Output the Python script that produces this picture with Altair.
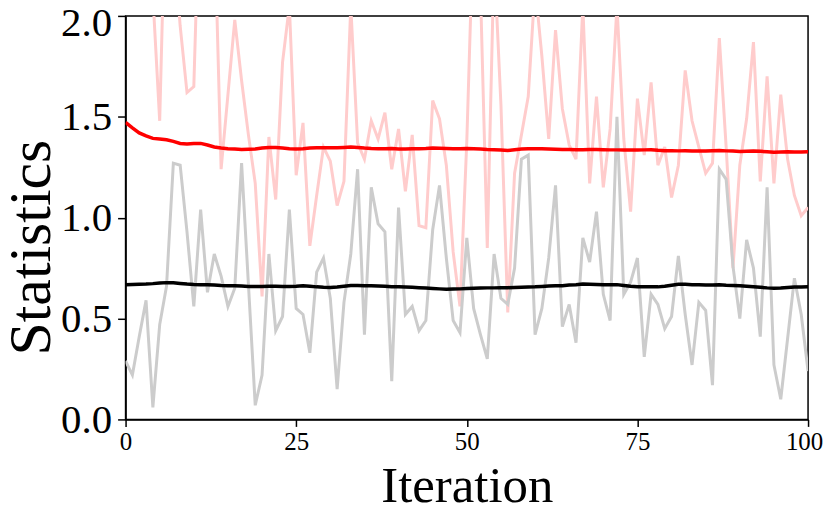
import altair as alt
import pandas as pd

iterations = list(range(101))

pink_raw = [2.6, 2.9, 3.2, 2.5, 2.1, 1.48, 2.8, 2.4, 1.95, 1.62,
            1.65, 2.8, 3.0, 2.5, 1.24, 1.61, 1.98, 1.68, 1.41, 1.17,
            0.61, 1.40, 1.09, 1.77, 2.05, 1.21, 1.47, 0.86, 1.11, 1.35,
            1.28, 1.06, 1.18, 2.05, 1.37, 1.29, 1.48, 1.39, 1.52, 1.24,
            1.44, 1.13, 1.41, 0.96, 0.95, 1.58, 1.49, 1.26, 0.83, 0.56,
            1.38, 2.5, 2.13, 0.85, 2.29, 1.56, 0.53, 1.22, 1.41, 1.60,
            2.15, 1.80, 1.39, 1.93, 1.54, 1.36, 1.29, 2.05, 1.17, 1.60,
            1.15, 1.44, 2.05, 1.39, 1.03, 1.59, 1.31, 1.67, 1.26, 1.35,
            1.10, 1.26, 1.73, 1.48, 1.35, 1.22, 1.27, 1.89, 1.35, 0.75,
            1.26, 1.49, 1.87, 1.18, 1.70, 1.17, 1.61, 1.29, 1.11, 1.01,
            1.05]

gray_raw = [0.29, 0.22, 0.41, 0.59, 0.06, 0.47, 0.66, 1.27, 1.26, 0.93,
            0.56, 1.04, 0.63, 0.82, 0.71, 0.56, 0.65, 1.27, 0.67, 0.07,
            0.22, 0.82, 0.44, 0.51, 1.04, 0.55, 0.52, 0.33, 0.73, 0.80,
            0.60, 0.15, 0.58, 0.82, 1.24, 0.42, 1.15, 0.97, 0.93, 0.19,
            1.05, 0.52, 0.56, 0.44, 0.49, 0.94, 1.16, 0.80, 0.49, 0.43,
            0.90, 0.55, 0.42, 0.30, 0.82, 0.60, 0.57, 0.75, 1.29, 1.31,
            0.42, 0.55, 0.80, 1.16, 0.46, 0.57, 0.38, 0.90, 0.78, 1.03,
            0.62, 0.49, 1.50, 0.62, 0.68, 0.80, 0.31, 0.62, 0.57, 0.45,
            0.51, 0.81, 0.52, 0.27, 0.58, 0.54, 0.17, 1.24, 1.19, 0.76,
            0.50, 0.89, 0.75, 0.41, 1.15, 0.27, 0.10, 0.40, 0.70, 0.52,
            0.24]

red_smooth = [1.472, 1.445, 1.420, 1.405, 1.393, 1.390, 1.386, 1.378, 1.368, 1.365,
              1.368, 1.368, 1.360, 1.350, 1.345, 1.342, 1.340, 1.338, 1.339, 1.340,
              1.345, 1.348, 1.348, 1.345, 1.342, 1.340, 1.342, 1.345, 1.346, 1.347,
              1.346, 1.346, 1.348, 1.350, 1.348, 1.345, 1.343, 1.342, 1.342, 1.343,
              1.340, 1.340, 1.341, 1.342, 1.343, 1.345, 1.344, 1.343, 1.342, 1.342,
              1.343, 1.342, 1.340, 1.338, 1.337, 1.335, 1.333, 1.337, 1.340, 1.341,
              1.342, 1.341, 1.340, 1.339, 1.338, 1.338, 1.337, 1.337, 1.338, 1.338,
              1.337, 1.336, 1.336, 1.335, 1.335, 1.335, 1.336, 1.337, 1.334, 1.332,
              1.332, 1.331, 1.332, 1.330, 1.331, 1.330, 1.332, 1.333, 1.331, 1.330,
              1.328, 1.329, 1.330, 1.329, 1.327, 1.324, 1.326, 1.327, 1.326, 1.325,
              1.327]

black_smooth = [0.668, 0.669, 0.670, 0.671, 0.673, 0.676, 0.678, 0.677, 0.674, 0.671,
                0.669, 0.668, 0.667, 0.666, 0.664, 0.663, 0.662, 0.661, 0.659, 0.659,
                0.659, 0.660, 0.660, 0.659, 0.659, 0.660, 0.662, 0.660, 0.657, 0.655,
                0.654, 0.656, 0.660, 0.664, 0.664, 0.663, 0.662, 0.661, 0.660, 0.658,
                0.657, 0.656, 0.655, 0.653, 0.651, 0.649, 0.647, 0.645, 0.646, 0.647,
                0.649, 0.650, 0.651, 0.652, 0.652, 0.653, 0.653, 0.654, 0.655, 0.656,
                0.657, 0.659, 0.661, 0.662, 0.663, 0.666, 0.668, 0.671, 0.670, 0.669,
                0.668, 0.668, 0.668, 0.664, 0.660, 0.658, 0.657, 0.657, 0.657, 0.660,
                0.665, 0.670, 0.670, 0.668, 0.667, 0.666, 0.666, 0.667, 0.665, 0.664,
                0.662, 0.660, 0.658, 0.655, 0.652, 0.650, 0.651, 0.654, 0.656, 0.656,
                0.657]

x_ticks = [0, 25, 50, 75, 100]
y_ticks = [0.0, 0.5, 1.0, 1.5, 2.0]

FONT = "Liberation Serif"

x_enc = alt.X("it:Q",
              scale=alt.Scale(domain=[0, 100], nice=False, zero=False),
              axis=alt.Axis(values=x_ticks, title="Iteration", grid=False,
                            labelFont=FONT, labelFontSize=25, labelColor="black",
                            labelPadding=3, tickSize=7, tickColor="black",
                            tickWidth=1.5, domainColor="black", domainWidth=1.5,
                            labelOffset={"condition": {"test": "datum.value == 100", "value": -4},
                                         "value": 0},
                            titleFont=FONT, titleFontSize=51, titleFontWeight="normal",
                            titleColor="black", titleX=342.5, titleY=82,
                            titleAlign="center", titleBaseline="alphabetic",
                            labelFlush=False))
y_enc = alt.Y("v:Q",
              scale=alt.Scale(domain=[0, 2], nice=False, zero=False),
              axis=alt.Axis(values=y_ticks, format=".1f", title="Statistics", grid=False,
                            labelFont=FONT, labelFontSize=41, labelColor="black",
                            labelPadding=6, tickSize=8, tickColor="black",
                            tickWidth=1.5, domainColor="black", domainWidth=1.5,
                            labelOffset={"condition": {"test": "datum.value == 2", "value": 8},
                                         "value": 1},
                            titleFont=FONT, titleFontSize=60, titleFontWeight="normal",
                            titleColor="black", titleAngle=270, titleX=-76, titleY=232,
                            titleAlign="center", titleBaseline="alphabetic",
                            labelFlush=False))


def layer(values, color, width):
    df = pd.DataFrame({"it": iterations, "v": values})
    return alt.Chart(df).mark_line(color=color, strokeWidth=width, clip=True).encode(
        x=x_enc, y=y_enc)


chart = alt.layer(
    layer(pink_raw, "#ffcccc", 3),
    layer(gray_raw, "#cccccc", 3),
    layer(red_smooth, "#ff0000", 3.5),
    layer(black_smooth, "#000000", 3.5),
).properties(
    width=685, height=405,
    autosize=alt.AutoSizeParams(type="none"),
    padding={"left": 118, "top": 7, "right": 15, "bottom": 94},
).configure_view(stroke="black", strokeWidth=1.5)

chart.save("out.html", embed_options={"renderer": "svg", "actions": False})
